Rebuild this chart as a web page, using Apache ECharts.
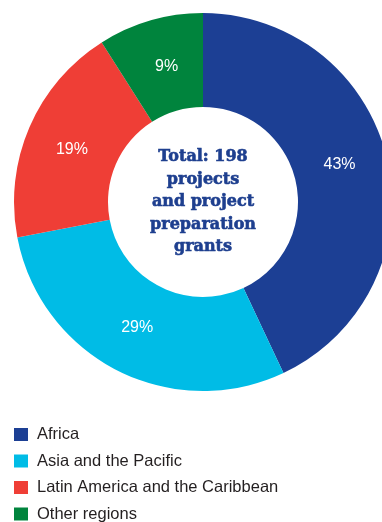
<!DOCTYPE html>
<html>
<head>
<meta charset="utf-8">
<script src="https://cdn.jsdelivr.net/npm/echarts@6/dist/echarts.min.js"></script>
<style>
html,body{margin:0;padding:0;background:#fff;}
#chart{width:382px;height:522px;}
</style>
</head>
<body>
<div id="chart"></div>
<script>
const categories = ["Africa", "Asia and the Pacific", "Latin America and the Caribbean", "Other regions"];
const values = [43, 29, 19, 9];
const colors = ["#1c3f94", "#00bce6", "#ef3e36", "#00843d"];
const centerLines = ["Total: 198", "projects", "and project", "preparation", "grants"];

const chart = echarts.init(document.getElementById('chart'), null, {renderer: 'canvas'});
const labelOffsets = [[-5, -6], [0, -4], [2, 5], [4, 4]];
const data = categories.map((c, i) => ({
  name: c,
  value: values[i],
  itemStyle: {color: colors[i]},
  label: {offset: labelOffsets[i]}
}));
const legends = categories.map((c, i) => ({
  orient: 'vertical',
  left: 14,
  top: 426 + i * 26.5,
  padding: 0,
  itemWidth: 14,
  itemHeight: 13,
  icon: 'rect',
  data: [c],
  textStyle: {fontFamily: 'Liberation Sans', fontSize: 16.5, color: '#231f20', padding: [0, 0, 0, 4]}
}));
chart.setOption({
  animation: false,
  legend: legends,
  graphic: [{
    type: 'text',
    x: 203,
    y: 202,
    style: {
      text: centerLines.join('\n'),
      fill: '#1e3f8f',
      stroke: '#1e3f8f',
      lineWidth: 0.6,
      font: 'bold 16px "DejaVu Serif"',
      lineHeight: 22.5,
      align: 'center',
      verticalAlign: 'middle'
    }
  }],
  series: [{
    type: 'pie',
    center: [203, 202],
    radius: [95, 189],
    startAngle: 90,
    clockwise: true,
    avoidLabelOverlap: false,
    label: {
      show: true,
      position: 'inside',
      formatter: '{c}%',
      color: '#ffffff',
      fontFamily: 'Liberation Sans',
      fontSize: 16
    },
    labelLine: {show: false},
    emphasis: {disabled: true},
    itemStyle: {borderWidth: 0},
    data: data
  }]
});
</script>
</body>
</html>
